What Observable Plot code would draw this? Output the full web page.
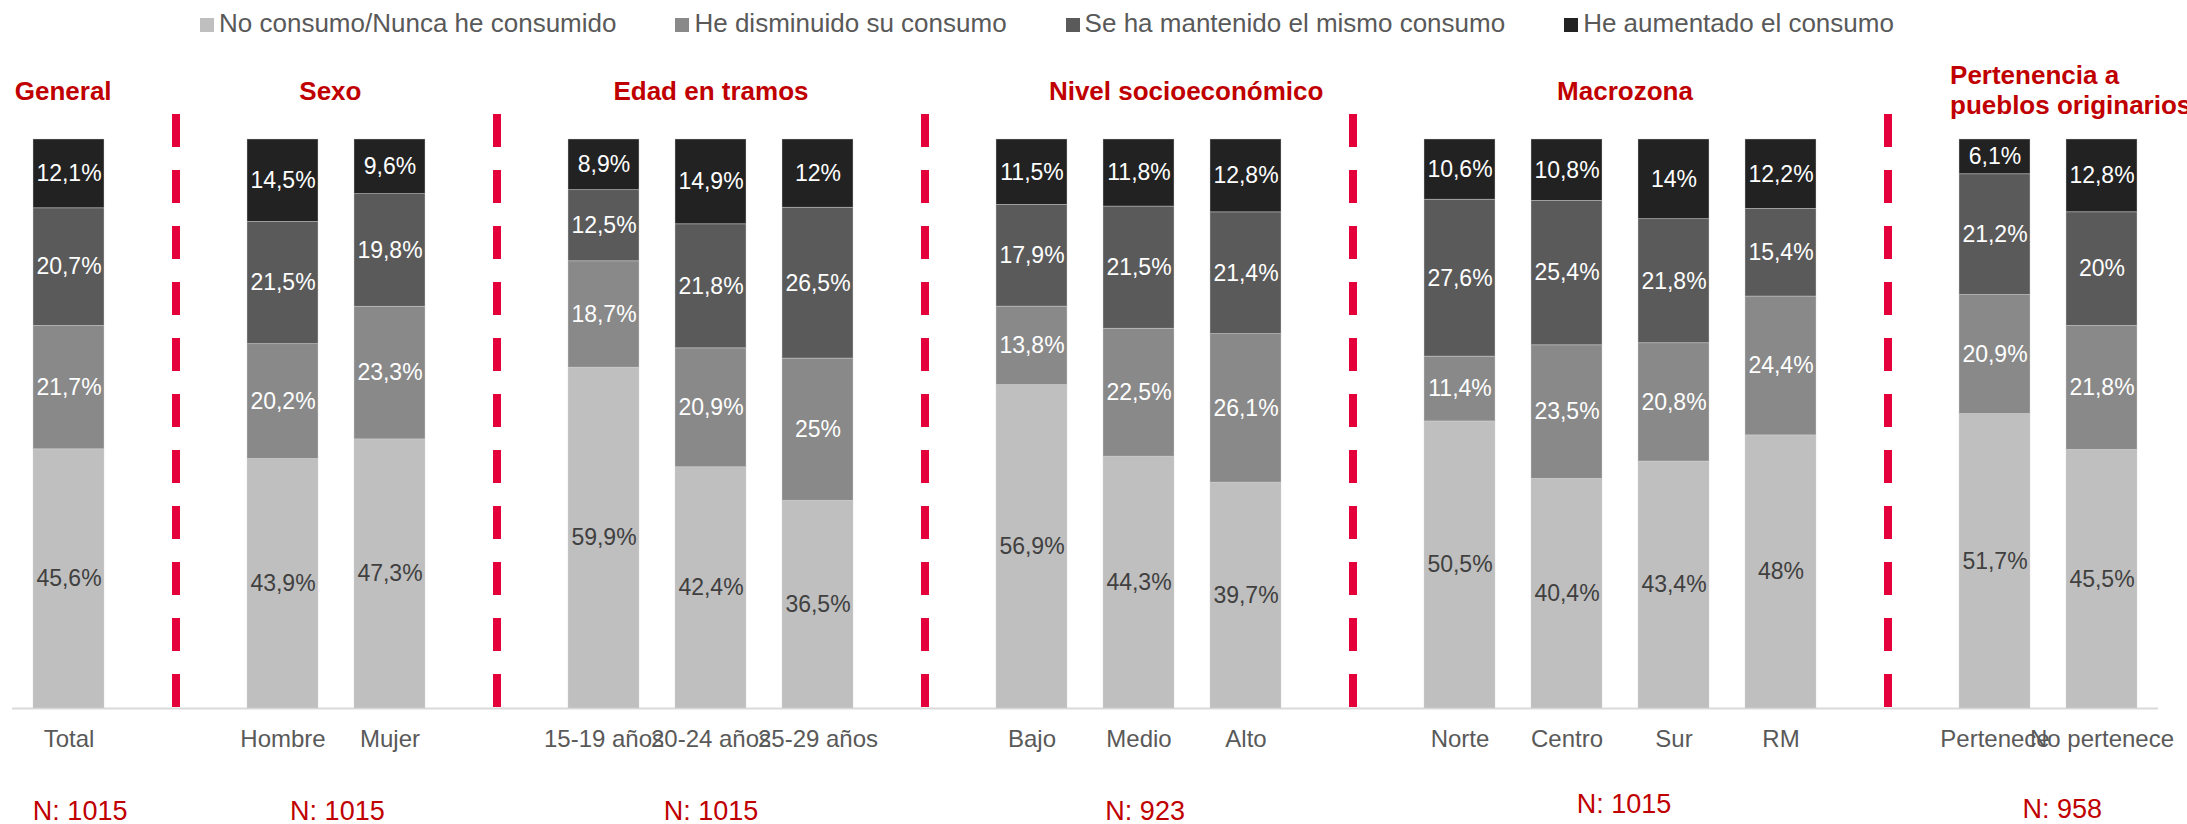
<!DOCTYPE html>
<html>
<head>
<meta charset="utf-8">
<script src="https://cdn.jsdelivr.net/npm/d3@7"></script>
<script src="https://cdn.jsdelivr.net/npm/@observablehq/plot@0.6"></script>
<style>
  html, body { margin: 0; padding: 0; background: #fff; }
  body { width: 2187px; height: 824px; overflow: hidden; font-family: "Liberation Sans", Arial, sans-serif; }
  #legend { position: relative; height: 50px; box-sizing: border-box; padding-top: 10px; padding-left: 200px;
    display: flex; align-items: flex-start; }
  #legend .item { display: flex; align-items: center; margin-right: 59px; font-size: 26px; line-height: 26px; color: #595959; height: 26px; }
  #legend .sw { width: 14px; height: 14px; margin-right: 5px; margin-top: 4px; }
</style>
</head>
<body>
<div id="legend"></div>
<div id="chart"></div>
<script>
// ---- data ----
const groups = ["General", "Sexo", "Edad en tramos", "Nivel socioeconómico", "Macrozona", "Pertenencia a\npueblos originarios"];
const categories = ["Total", "Hombre", "Mujer", "15-19 años", "20-24 años", "25-29 años", "Bajo", "Medio", "Alto", "Norte", "Centro", "Sur", "RM", "Pertenece", "No pertenece"];
const categoryGroup = [0, 1, 1, 2, 2, 2, 3, 3, 3, 4, 4, 4, 4, 5, 5];
const sampleSizes = ["N: 1015", "N: 1015", "N: 1015", "N: 923", "N: 1015", "N: 958"];
const series = ["No consumo/Nunca he consumido", "He disminuido su consumo", "Se ha mantenido el mismo consumo", "He aumentado el consumo"];
const noConsumo  = [45.6, 43.9, 47.3, 59.9, 42.4, 36.5, 56.9, 44.3, 39.7, 50.5, 40.4, 43.4, 48.0, 51.7, 45.5];
const disminuido = [21.7, 20.2, 23.3, 18.7, 20.9, 25.0, 13.8, 22.5, 26.1, 11.4, 23.5, 20.8, 24.4, 20.9, 21.8];
const mantenido  = [20.7, 21.5, 19.8, 12.5, 21.8, 26.5, 17.9, 21.5, 21.4, 27.6, 25.4, 21.8, 15.4, 21.2, 20.0];
const aumentado  = [12.1, 14.5, 9.6, 8.9, 14.9, 12.0, 11.5, 11.8, 12.8, 10.6, 10.8, 14.0, 12.2, 6.1, 12.8];

// ---- styling ----
const colors = ["#bfbfbf", "#898989", "#5a5a5a", "#222222"];
const red = "#c00000";
const dashRed = "#e4003b";
const W = 2187, H = 774, mL = 12, mR = 29, mT = 89, mB = 116;

// ---- build tables ----
const seriesValues = [noConsumo, disminuido, mantenido, aumentado];
const rows = categories.flatMap((c, i) => seriesValues.map((vals, s) => ({category: c, series: series[s], value: vals[i]})));
const slots = [];
const gaps = [];
groups.forEach((g, gi) => {
  categories.forEach((c, i) => { if (categoryGroup[i] === gi) slots.push(c); });
  if (gi < groups.length - 1) { slots.push("gap" + gi); gaps.push("gap" + gi); }
});
const fmt = v => String(v).replace(".", ",") + "%";

// legend
const legend = document.getElementById("legend");
series.forEach((s, i) => {
  const it = document.createElement("div");
  it.className = "item";
  it.innerHTML = `<span class="sw" style="background:${colors[i]}"></span><span>${s}</span>`;
  legend.appendChild(it);
});

// scale for annotations
const xOpts = {type: "band", domain: slots, paddingInner: 0.338, paddingOuter: 0.169};
const xs = Plot.scale({x: {...xOpts, range: [mL, W - mR]}});
const center = s => xs.apply(s) + xs.bandwidth / 2;
const groupCenter = gi => {
  const cs = categories.filter((c, i) => categoryGroup[i] === gi);
  return (center(cs[0]) + center(cs[cs.length - 1])) / 2;
};
const headerDx = [-3, -4, 1, 47, 3, 0];
const nDx = [14, 3, 1, 6, 2, 11];
const nDy = [111, 111, 111, 111, 104, 109];

const headerMarks = groups.map((g, gi) => {
  const last = gi === groups.length - 1;
  const firstCat = categories[categoryGroup.indexOf(gi)];
  const xpos = last ? xs.apply(firstCat) - 12 : groupCenter(gi) + headerDx[gi];
  return Plot.text([g], {
    text: d => d, frameAnchor: "top-left", dx: xpos - mL, dy: last ? -26 : -40,
    textAnchor: last ? "start" : "middle", lineAnchor: "bottom", lineHeight: 1.15,
    fill: red, fontSize: 26, fontWeight: "bold"
  });
});
const nMarks = sampleSizes.map((n, gi) => Plot.text([n], {
  text: d => d, frameAnchor: "bottom-left", dx: groupCenter(gi) + nDx[gi] - mL, dy: nDy[gi],
  textAnchor: "middle", lineAnchor: "bottom", fill: red, fontSize: 27
}));

const stackOpts = {x: "category", y: "value", z: "series", order: series, offset: "normalize"};

const chart = Plot.plot({
  width: W, height: H,
  marginLeft: mL, marginRight: mR, marginTop: mT, marginBottom: mB,
  style: {fontFamily: "'Liberation Sans', Arial, sans-serif", background: "white", overflow: "visible"},
  x: {...xOpts, axis: null, label: null},
  y: {domain: [0, 1], axis: null, label: null},
  color: {domain: series, range: colors},
  marks: [
    Plot.ruleY([0], {stroke: "#d9d9d9", strokeWidth: 2}),
    Plot.barY(rows, Plot.stackY({...stackOpts, fill: "series", stroke: "#d9d9d9", strokeWidth: 0.8, strokeOpacity: 0.5})),
    Plot.text(rows, Plot.stackY({...stackOpts, text: d => d.series === series[0] ? fmt(d.value) : "", fill: "#404040", fontSize: 23, lineAnchor: "middle"})),
    Plot.text(rows, Plot.stackY({...stackOpts, text: d => d.series === series[0] ? "" : fmt(d.value), fill: "white", fontSize: 23, lineAnchor: "middle"})),
    Plot.ruleX(gaps, {x: d => d, stroke: dashRed, strokeWidth: 8, strokeDasharray: "33,23", insetTop: -25, insetBottom: 1}),
    Plot.axisX({tickSize: 0, tickPadding: 21, fontSize: 24, color: "#595959", label: null, tickFormat: d => gaps.includes(d) ? "" : d}),
    ...headerMarks,
    ...nMarks
  ]
});
document.getElementById("chart").appendChild(chart);
</script>
</body>
</html>
